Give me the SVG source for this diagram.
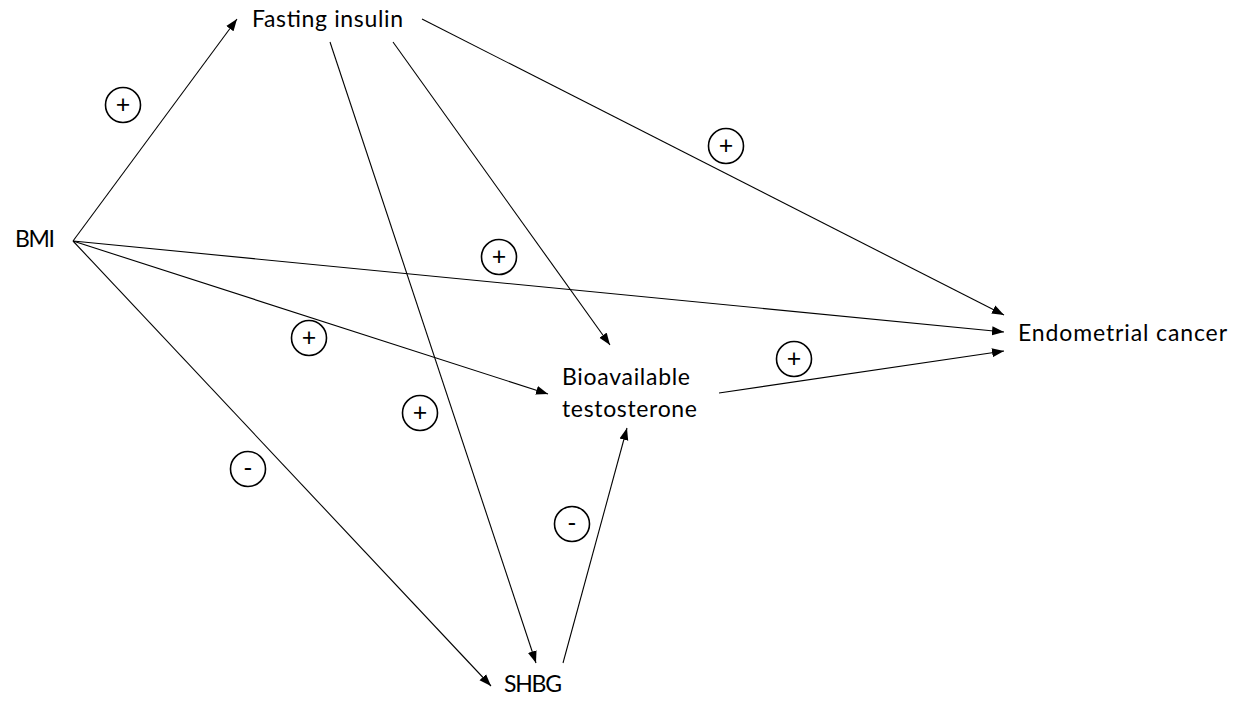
<svg xmlns="http://www.w3.org/2000/svg" width="1241" height="702" viewBox="0 0 1241 702">
<style>
.lbl{font-family:Lato,"Liberation Sans",Arial,sans-serif;font-size:23px;fill:#000}
.sg{font-family:Lato,"Liberation Sans",Arial,sans-serif;font-size:25px;fill:#000;text-anchor:middle}
.c{fill:none;stroke:#000;stroke-width:1.6}
.e{fill:none;stroke:#000;stroke-width:1.1;marker-end:url(#ah)}
</style>
<defs>
<marker id="ah" markerUnits="userSpaceOnUse" markerWidth="12" markerHeight="10" refX="12" refY="4.5" orient="auto" viewBox="0 0 12 9">
<path d="M0,0 L12,4.5 L0,9 z" fill="#000"/>
</marker>
</defs>
<rect width="1241" height="702" fill="#fff"/>
<g id="connectors">
<line class="e" x1="73" y1="241" x2="237" y2="19"/>
<line class="e" x1="330" y1="42" x2="536" y2="663"/>
<line class="e" x1="393" y1="42" x2="610" y2="345"/>
<line class="e" x1="422" y1="19" x2="1004" y2="315"/>
<line class="e" x1="73" y1="241" x2="1004" y2="332"/>
<line class="e" x1="73" y1="241" x2="548" y2="394"/>
<line class="e" x1="73" y1="241" x2="491" y2="686"/>
<line class="e" x1="563" y1="663" x2="627" y2="428"/>
<line class="e" x1="719" y1="393" x2="1004" y2="351"/>
</g>
<g id="signs">
<g id="s1"><circle class="c" cx="123" cy="105" r="17.5"/><text class="sg" x="123" y="113">+</text></g>
<g id="s2"><circle class="c" cx="726" cy="146" r="17.5"/><text class="sg" x="726" y="154">+</text></g>
<g id="s3"><circle class="c" cx="499" cy="257" r="17.5"/><text class="sg" x="499" y="265">+</text></g>
<g id="s4"><circle class="c" cx="309" cy="338" r="17.5"/><text class="sg" x="309" y="346">+</text></g>
<g id="s5"><circle class="c" cx="794" cy="359" r="17.5"/><text class="sg" x="794" y="367">+</text></g>
<g id="s6"><circle class="c" cx="420" cy="413" r="17.5"/><text class="sg" x="420" y="421">+</text></g>
<g id="s7"><circle class="c" cx="248" cy="469" r="17.5"/><text class="sg" x="248" y="477">-</text></g>
<g id="s8"><circle class="c" cx="572" cy="524" r="17.5"/><text class="sg" x="572" y="532">-</text></g>
</g>
<g id="node-fasting-insulin"><text class="lbl" x="252" y="27" textLength="151">Fasting insulin</text></g>
<g id="node-bmi"><text class="lbl" x="15" y="247" textLength="40">BMI</text></g>
<g id="node-endometrial-cancer"><text class="lbl" x="1018" y="341" textLength="209">Endometrial cancer</text></g>
<g id="node-bioavailable-testosterone"><text class="lbl" x="562" y="385" textLength="128">Bioavailable</text><text class="lbl" x="562" y="417" textLength="135">testosterone</text></g>
<g id="node-shbg"><text class="lbl" x="504" y="692" textLength="58">SHBG</text></g>
</svg>
